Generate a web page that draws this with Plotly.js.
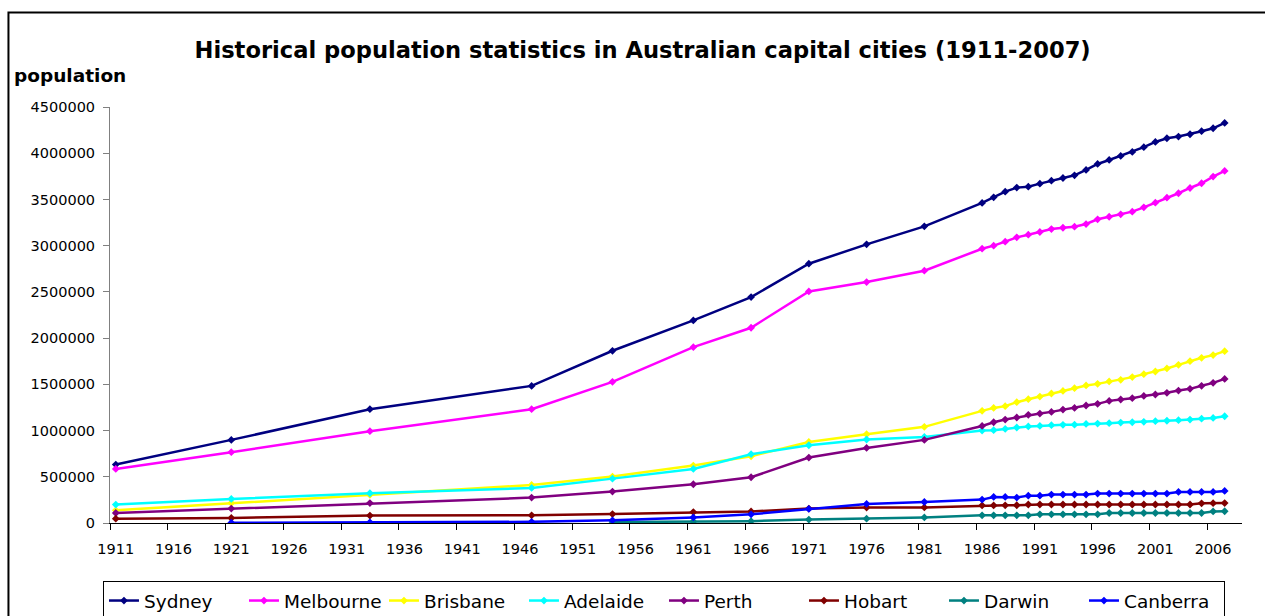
<!DOCTYPE html>
<html>
<head>
<meta charset="utf-8">
<script src="https://cdn.plot.ly/plotly-3.0.1.min.js"></script>
<style>
  html, body { margin: 0; padding: 0; background: #fff; }
  #chart { width: 1265px; height: 616px; }
</style>
</head>
<body>
<div id="chart"></div>
<script>
// ---- Data ----
const years = [1911, 1921, 1933, 1947, 1954, 1961, 1966, 1971, 1976, 1981,
  1986, 1987, 1988, 1989, 1990, 1991, 1992, 1993, 1994, 1995, 1996,
  1997, 1998, 1999, 2000, 2001, 2002, 2003, 2004, 2005, 2006, 2007];

const sydney = [632000, 899000, 1231000, 1483000, 1863000, 2191000, 2444000, 2805000, 3014000, 3209000,
  3462000, 3523000, 3584000, 3628000, 3638000, 3671000, 3703000, 3732000, 3761000, 3819000, 3884000,
  3927000, 3971000, 4014000, 4065000, 4122000, 4162000, 4180000, 4205000, 4238000, 4270000, 4328000];

const melbourne = [585000, 766000, 993000, 1231000, 1527000, 1902000, 2112000, 2505000, 2606000, 2729000,
  2967000, 3000000, 3043000, 3090000, 3119000, 3148000, 3180000, 3194000, 3205000, 3234000, 3285000,
  3313000, 3339000, 3368000, 3415000, 3465000, 3519000, 3567000, 3624000, 3675000, 3747000, 3808000];

const brisbane = [137000, 215000, 305000, 411000, 502000, 621000, 722000, 877000, 960000, 1040000,
  1213000, 1245000, 1264000, 1307000, 1339000, 1368000, 1401000, 1429000, 1458000, 1488000, 1505000,
  1531000, 1549000, 1578000, 1610000, 1639000, 1672000, 1711000, 1751000, 1787000, 1816000, 1859000];

const adelaide = [199000, 260000, 322000, 379000, 480000, 585000, 744000, 841000, 903000, 931000,
  1000000, 1004000, 1018000, 1033000, 1045000, 1050000, 1058000, 1062000, 1064000, 1072000, 1076000,
  1080000, 1086000, 1090000, 1094000, 1101000, 1106000, 1112000, 1119000, 1128000, 1137000, 1155000];

const perth = [108000, 156000, 215000, 275000, 340000, 419000, 495000, 708000, 812000, 899000,
  1050000, 1090000, 1119000, 1141000, 1170000, 1184000, 1202000, 1227000, 1245000, 1271000, 1289000,
  1321000, 1336000, 1350000, 1375000, 1390000, 1408000, 1433000, 1451000, 1484000, 1516000, 1559000];

const hobart = [47000, 54000, 80000, 83000, 97000, 118000, 125000, 156000, 167000, 169000,
  190000, 190000, 191000, 192000, 200000, 200000, 200000, 200000, 200000, 200000, 200000,
  200000, 200000, 200000, 200000, 200000, 200000, 200000, 200000, 213000, 214000, 215000];

const darwin = [null, null, null, null, 10000, 15000, 20000, 37000, 47000, 60000,
  83000, 83000, 83000, 83000, 83000, 94000, 94000, 94000, 94000, 94000, 94000,
  108000, 108000, 108000, 108000, 108000, 108000, 108000, 108000, 108000, 125000, 127000];

const canberra = [null, 2500, 7000, 13000, 29000, 60000, 94000, 152000, 206000, 227000,
  253000, 282000, 282000, 275000, 296000, 296000, 307000, 307000, 307000, 307000, 318000,
  318000, 318000, 318000, 318000, 318000, 318000, 336000, 336000, 336000, 336000, 347000];

const cityNames = ["Sydney", "Melbourne", "Brisbane", "Adelaide", "Perth", "Hobart", "Darwin", "Canberra"];
const cityColors = ["#000080", "#FF00FF", "#FFFF00", "#00FFFF", "#800080", "#800000", "#008080", "#0000FF"];
const citySeries = [sydney, melbourne, brisbane, adelaide, perth, hobart, darwin, canberra];

const xTickYears = [1911, 1916, 1921, 1926, 1931, 1936, 1941, 1946, 1951, 1956, 1961, 1966,
  1971, 1976, 1981, 1986, 1991, 1996, 2001, 2006];
const xTickBounds = [1910.5, 1915.5, 1920.5, 1925.5, 1930.5, 1935.5, 1940.5, 1945.5, 1950.5, 1955.5,
  1960.5, 1965.5, 1970.5, 1975.5, 1980.5, 1985.5, 1990.5, 1995.5, 2000.5, 2005.5];
const yTicks = [0, 500000, 1000000, 1500000, 2000000, 2500000, 3000000, 3500000, 4000000, 4500000];

const FONT = "DejaVu Sans, Liberation Sans, Arial, sans-serif";

const traces = cityNames.map((name, i) => ({
  type: "scatter",
  mode: "lines+markers",
  name: name,
  x: years,
  y: citySeries[i],
  connectgaps: false,
  line: { color: cityColors[i], width: 2.5 },
  marker: { color: cityColors[i], symbol: "diamond", size: 6 }
}));

const layout = {
  width: 1265,
  height: 616,
  margin: { l: 110, r: 23, t: 107, b: 93, pad: 0, autoexpand: false },
  paper_bgcolor: "#ffffff",
  plot_bgcolor: "#ffffff",
  font: { family: FONT, color: "#000" },
  title: {
    text: "Historical population statistics in Australian capital cities (1911-2007)",
    font: { family: FONT, size: 22.6, color: "#000", weight: "bold" },
    xref: "container", x: 0.508, xanchor: "center",
    yref: "container", y: 0.919, yanchor: "middle"
  },
  xaxis: {
    range: [1910.5, 2008.5],
    showgrid: false,
    zeroline: false,
    showline: true,
    linecolor: "#000",
    linewidth: 1,
    tickmode: "array",
    tickvals: xTickYears,
    ticktext: xTickYears.map(String),
    ticks: "",
    ticklabelstandoff: 13,
    tickfont: { family: FONT, size: 14.5, color: "#000" },
    minor: {
      tickmode: "array",
      tickvals: xTickBounds,
      ticks: "outside",
      ticklen: 6,
      tickwidth: 1,
      tickcolor: "#000",
      showgrid: false
    }
  },
  yaxis: {
    range: [0, 4500000],
    showgrid: false,
    zeroline: false,
    showline: true,
    linecolor: "#808080",
    linewidth: 1,
    tickmode: "array",
    tickvals: yTicks,
    ticktext: yTicks.map(String),
    ticks: "outside",
    ticklen: 6,
    tickwidth: 1,
    tickcolor: "#808080",
    ticklabelstandoff: 5,
    tickfont: { family: FONT, size: 14.5, color: "#000" }
  },
  legend: {
    orientation: "h",
    xref: "container", x: 0.0814, xanchor: "left",
    yref: "container", y: 0.0568, yanchor: "top",
    bordercolor: "#000",
    borderwidth: 1,
    bgcolor: "#fff",
    font: { family: FONT, size: 18.5, color: "#000" },
    entrywidth: 95,
    entrywidthmode: "pixels",
    traceorder: "normal"
  },
  annotations: [{
    text: "population",
    xref: "paper", yref: "paper",
    x: -0.0866, xanchor: "left",
    y: 1.0746, yanchor: "middle",
    showarrow: false,
    font: { family: FONT, size: 18.5, color: "#000", weight: "bold" }
  }],
  shapes: [{
    type: "path",
    xref: "paper", yref: "paper",
    path: "M -0.0897,-0.5 L -0.0897,1.2273 L 1.5,1.2273",
    line: { color: "#000", width: 2 },
    layer: "below"
  }],
  showlegend: true
};

Plotly.newPlot("chart", traces, layout, { staticPlot: true, displayModeBar: false });
</script>
</body>
</html>
